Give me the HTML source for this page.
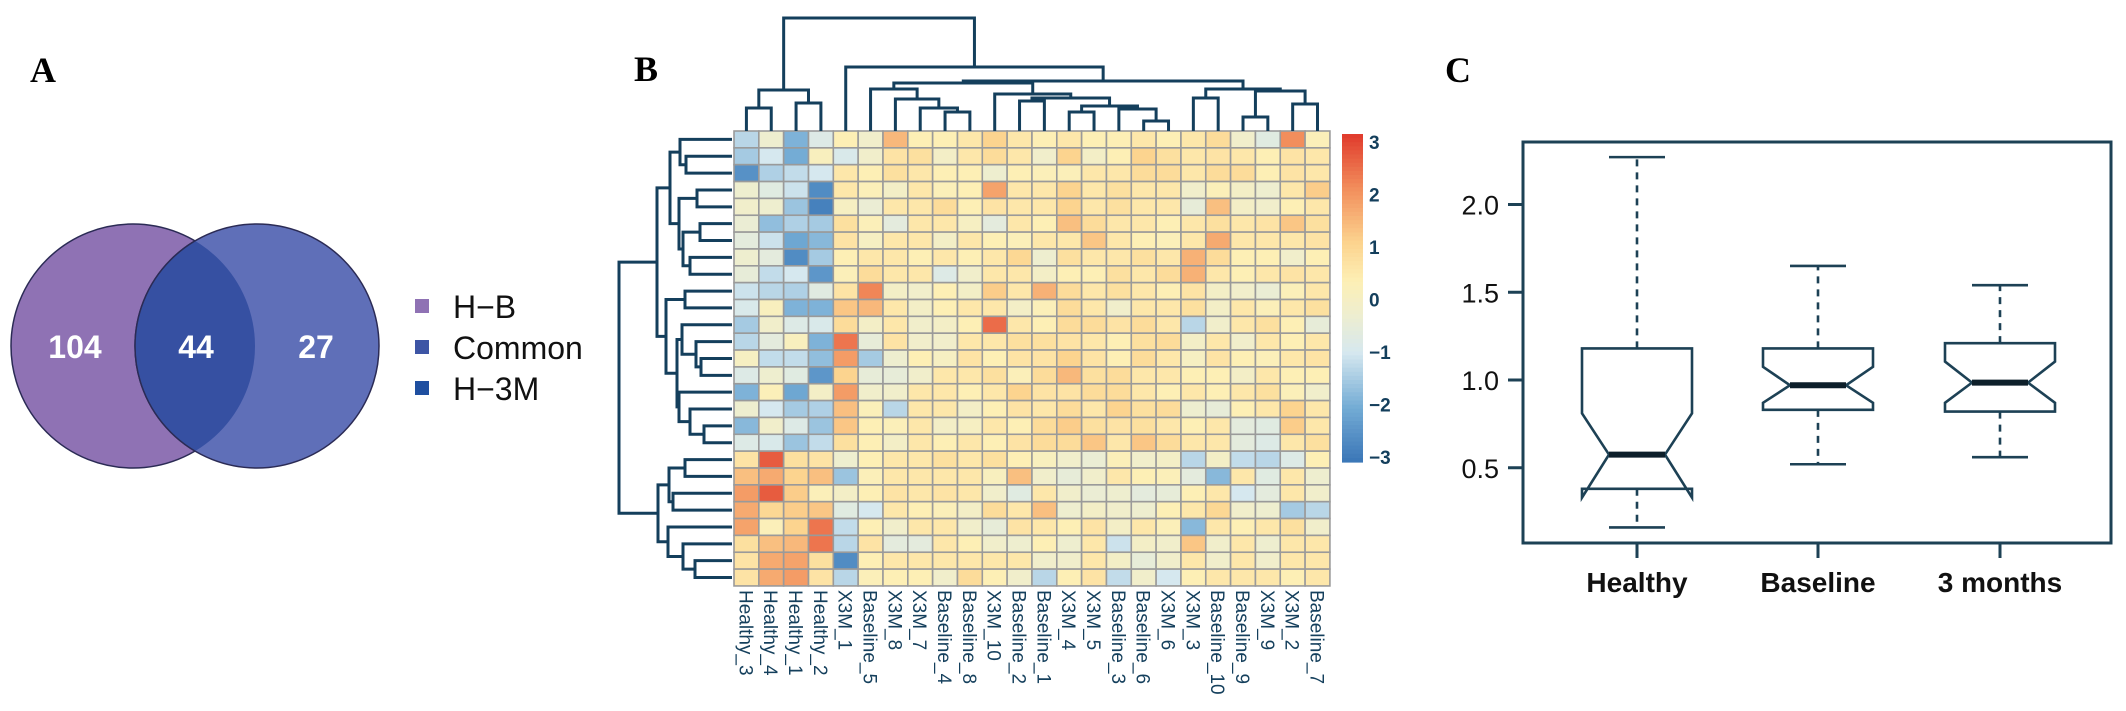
<!DOCTYPE html>
<html><head><meta charset="utf-8">
<style>
html,body{margin:0;padding:0;background:#fff;}
svg{display:block;}
</style></head>
<body>
<svg id="fig" width="2126" height="711" viewBox="0 0 2126 711" xmlns="http://www.w3.org/2000/svg" font-family="Liberation Sans, Arial, sans-serif">
  <g font-family="Liberation Serif, serif" font-weight="bold" font-size="36" fill="#000">
    <text x="30" y="82">A</text>
    <text x="634" y="81">B</text>
    <text x="1445" y="82">C</text>
  </g>
  <g id="venn"></g>
  <g id="heat"></g>
  <g id="box"></g>
</svg>
<script>
// ---------- Venn data ----------
const vennCounts = [104, 44, 27];
const vennLegend = ["H\u2212B", "Common", "H\u22123M"];

// ---------- Heatmap data ----------
const colLabels = ["Healthy_3","Healthy_4","Healthy_1","Healthy_2","X3M_1","Baseline_5","X3M_8","X3M_7","Baseline_4","Baseline_8","X3M_10","Baseline_2","Baseline_1","X3M_4","X3M_5","Baseline_3","Baseline_6","X3M_6","X3M_3","Baseline_10","Baseline_9","X3M_9","X3M_2","Baseline_7"];
const heatValues = [
 [-1.3,-0.3,-1.9,-0.8,0.3,-0.2,1.4,0.3,0.3,0.5,1.0,0.5, 0.3,0.5,0.3,0.3,0.5,0.3,0.5,0.8,-0.2,-0.7,2.0,0.2],
 [-1.5,-1.0,-2.0,0.1,-0.9,-0.2,0.6,0.7,-0.1,0.5,0.8,0.5, -0.2,1.0,-0.1,0.3,1.0,0.7,0.5,0.6,0.5,0.3,0.6,0.5],
 [-2.5,-1.4,-1.2,-1.0,0.5,0.3,0.7,0.5,0.3,0.3,-0.3,0.3, 0.2,0.2,0.5,0.5,0.8,0.8,0.5,0.8,0.8,0.3,0.6,0.5],
 [-0.3,-0.7,-1.1,-2.6,0.5,0.2,-0.1,0.5,0.2,0.3,1.7,0.5, 0.5,1.0,0.5,0.7,0.5,0.5,-0.2,0.2,-0.1,-0.3,0.5,1.1],
 [-0.2,-0.3,-1.6,-2.8,0.0,-0.4,0.5,0.5,0.8,0.3,0.6,0.5, 0.5,1.0,0.5,0.7,0.5,0.5,-0.5,1.3,-0.1,-0.2,0.3,0.5],
 [-0.4,-1.7,-1.4,-1.5,0.7,0.2,-0.6,0.5,0.5,0.0,-0.6,0.5, 0.3,1.3,0.8,0.5,0.5,0.3,0.5,0.7,0.5,0.6,1.2,0.7],
 [-0.6,-1.1,-2.1,-1.8,0.6,0.0,0.5,0.5,-0.1,0.5,0.3,0.2, 0.5,0.5,1.2,0.5,0.3,0.2,0.5,1.6,0.5,0.5,0.5,0.6],
 [-0.3,-0.6,-2.6,-1.5,0.3,0.5,0.5,0.3,0.5,0.3,0.5,0.9, -0.3,0.7,0.5,0.5,0.7,0.5,1.5,0.8,0.3,0.3,-0.2,0.3],
 [-0.5,-1.2,-1.0,-2.4,0.2,0.8,0.5,0.5,-0.8,-0.2,0.5,0.5, -0.1,0.3,0.3,0.7,0.5,0.8,1.5,0.5,0.3,0.5,0.6,0.5],
 [-1.1,-1.3,-1.4,-0.7,0.6,2.1,-0.1,-0.2,0.3,-0.1,1.1,0.5, 1.5,0.8,0.5,0.7,0.5,0.3,0.6,-0.1,-0.2,-0.4,0.2,0.5],
 [-0.9,0.1,-1.9,-1.9,1.2,1.4,0.5,-0.1,0.3,0.5,0.5,-0.1, 0.2,0.8,0.5,-0.2,0.5,0.5,0.7,-0.1,0.5,0.2,0.5,0.7],
 [-1.5,-0.2,-0.8,-0.9,0.8,-0.1,0.5,-0.2,-0.1,0.3,2.4,0.5, 0.3,0.8,0.8,0.6,0.8,0.5,-1.3,-0.2,0.5,0.7,0.3,-0.5],
 [-1.3,-0.6,0.1,-1.9,2.3,-0.5,0.6,-0.2,-0.2,0.5,0.5,0.7, 0.7,0.6,0.5,0.3,0.7,0.8,-0.1,0.5,-0.2,0.5,0.3,0.5],
 [0.0,-1.2,-1.2,-1.7,1.8,-1.5,-0.3,0.3,0.0,0.6,0.3,0.6, 0.6,1.0,0.6,0.3,0.8,0.5,0.0,0.6,0.3,0.2,0.5,0.6],
 [-0.8,-0.3,-0.7,-2.4,1.0,-0.5,-0.5,-0.2,0.5,0.5,0.7,0.2, 0.8,1.4,0.7,0.8,0.5,0.5,0.3,0.3,-0.1,0.5,0.3,0.3],
 [-1.9,0.2,-2.1,-0.1,1.8,-0.2,-0.2,0.5,0.5,0.3,0.5,1.0, 0.6,0.6,0.8,0.8,0.5,0.3,0.5,0.3,0.5,0.7,0.2,-0.2],
 [-0.3,-1.0,-1.5,-1.4,1.3,0.2,-1.3,0.5,0.5,-0.1,0.3,0.6, 0.5,0.8,0.5,1.0,0.7,0.8,-0.3,-0.5,0.3,0.5,1.0,0.5],
 [-1.8,-0.2,-0.8,-1.6,1.2,0.3,0.2,0.5,-0.1,0.0,0.5,0.3, 0.8,1.1,0.7,0.6,0.7,0.5,0.3,0.5,-0.6,-0.7,1.1,0.5],
 [-0.8,-0.9,-1.6,-1.2,0.7,0.3,-0.1,0.5,0.3,0.5,0.3,0.6, 0.8,0.8,1.2,0.5,1.2,0.8,0.5,0.5,-0.6,-0.8,0.5,0.7],
 [0.6,2.6,0.7,0.6,-0.3,0.3,0.5,0.5,0.7,0.5,0.7,0.3, 0.1,-0.2,-0.4,0.2,-0.2,-0.1,-1.3,-0.1,-1.2,-1.3,-0.8,0.3],
 [1.3,1.6,1.0,1.3,-1.6,0.2,0.5,0.5,0.5,0.5,0.1,1.3, -0.2,-0.5,-0.2,0.5,0.3,0.2,-0.6,-1.8,0.5,-0.7,0.5,-0.3],
 [1.8,2.6,1.1,0.2,-0.1,0.3,0.6,0.5,0.6,0.5,-0.2,-0.7, 0.5,-0.2,-0.4,-0.3,-0.6,-0.5,0.3,0.5,-1.0,-0.6,0.5,-0.2],
 [1.6,0.9,1.1,1.2,-0.7,-1.0,0.5,0.3,0.2,-0.1,0.8,0.5, 1.3,-0.3,-0.1,-0.2,-0.3,0.3,0.5,0.9,-0.2,-0.3,-1.5,-1.3],
 [1.7,0.2,1.0,2.3,-1.2,0.3,-0.2,0.5,0.5,-0.2,-0.5,0.6, 0.5,0.3,0.6,-0.1,0.5,0.2,-1.8,0.5,0.3,0.5,0.7,-0.2],
 [0.7,1.3,1.4,2.3,-1.3,0.6,-0.6,-0.6,0.5,0.3,-0.2,-0.3, 0.3,-0.3,0.5,-1.1,-0.1,-0.2,1.2,-0.2,0.5,-0.3,0.5,0.5],
 [0.6,1.6,1.7,0.7,-2.6,0.3,0.5,0.5,0.5,0.5,0.5,0.5, -0.2,-0.2,0.5,-0.1,-0.5,-0.2,0.5,-0.2,0.5,-0.2,0.5,0.5],
 [0.6,1.6,1.8,0.6,-1.3,0.2,0.3,0.3,-0.2,0.8,0.3,-0.2, -1.3,0.3,0.6,-1.2,-0.2,-1.0,0.3,0.5,0.5,0.5,0.3,0.5]
];
const colorbarTicks = [3,2,1,0,-1,-2,-3];

// ---------- Boxplot data ----------
const boxGroups = ["Healthy","Baseline","3 months"];
const boxWhiskerHi = [2.27, 1.65, 1.54];
const boxQ3 = [1.18, 1.18, 1.21];
const boxNotchHi = [0.81, 1.075, 1.105];
const boxMedian = [0.575, 0.97, 0.985];
const boxNotchLo = [0.33, 0.87, 0.87];
const boxQ1 = [0.38, 0.83, 0.82];
const boxWhiskerLo = [0.16, 0.52, 0.56];
const boxYTicks = [0.5, 1.0, 1.5, 2.0];

const NS = "http://www.w3.org/2000/svg";
function mk(tag, attrs, parent){
  const e = document.createElementNS(NS, tag);
  for (const k in attrs) e.setAttribute(k, attrs[k]);
  parent.appendChild(e);
  return e;
}

// ---------- Venn ----------
(function(){
  const g = document.getElementById('venn');
  const CY = 346, R = 122;
  const c1 = mk('circle',{cx:133,cy:CY,r:R,fill:'#8f72b4',stroke:'#2b2b55','stroke-width':1.5},g);
  
  
  const c2 = mk('circle',{cx:257,cy:CY,r:R,fill:'#5f6fb8',stroke:'#2b2b55','stroke-width':1.5},g);
  
  
  const cp = mk('clipPath',{id:'clipL'},g);
  mk('circle',{cx:133,cy:CY,r:R},cp);
  const ov = mk('circle',{cx:257,cy:CY,r:R,fill:'#3650a2','clip-path':'url(#clipL)',stroke:'#2b2b55','stroke-width':1.5},g);
  
  
  const xs = [75,196,316];
  vennCounts.forEach((v,i)=>{
    const t = mk('text',{x:xs[i],y:CY+12,'text-anchor':'middle','font-size':32,'font-weight':'bold',fill:'#fff'},g);
    t.textContent = v;
    
    
  });
  const sq = ['#8f72b4','#3d55a5','#1f4fa0'];
  const ly = [306,347,388];
  vennLegend.forEach((lab,i)=>{
    const r = mk('rect',{x:415,y:ly[i]-7,width:14,height:14,fill:sq[i]},g);
    
    
    const t = mk('text',{x:453,y:ly[i]+12,'font-size':32,fill:'#111'},g);
    t.textContent = lab;
    
    
  });
})();

// ---------- Heatmap ----------
(function(){
  const g = document.getElementById('heat');
  const X0=734, Y0=131, CW=24.83, RH=16.85;
  const stops = [[-3,[58,118,183]],[-2,[116,172,213]],[-1,[214,232,239]],[-0.3,[238,238,207]],[0.3,[253,239,181]],[1,[252,212,143]],[2,[242,142,92]],[3,[224,58,44]]];
  function col(v){
    v=Math.max(-3,Math.min(3,v));
    for(let i=0;i<stops.length-1;i++){
      const a=stops[i],b=stops[i+1];
      if(v<=b[0]){const t=(v-a[0])/(b[0]-a[0]);
        const c=a[1].map((x,k)=>Math.round(x+(b[1][k]-x)*t));
        return 'rgb('+c.join(',')+')';}
    }
    return 'rgb(224,58,44)';
  }
  const xC = j => X0 + j*CW;
  const yR = i => Y0 + i*RH;
  heatValues.forEach((row,i)=>{
    row.forEach((v,j)=>{
      const r = mk('rect',{x:xC(j),y:yR(i),width:CW,height:RH,fill:col(v),stroke:'#9a9a9a','stroke-width':1.6},g);
      
      
    });
  });
  colLabels.forEach((lab,j)=>{
    const cx = xC(j)+CW/2;
    const t = mk('text',{x:0,y:0,transform:'translate('+(cx-7)+',590) rotate(90)','font-size':19,fill:'#143f5c'},g);
    t.textContent = lab;
    
    
  });
  const cb = mk('g',{},g);
  
  
  const cbTop=134, cbBot=462;
  for(let k=0;k<80;k++){
    const v = 3 - 6*k/80;
    mk('rect',{x:1342,y:cbTop+(cbBot-cbTop)*k/80,width:21,height:(cbBot-cbTop)/80+0.6,fill:col(v-3/80)},cb);
  }
  colorbarTicks.forEach(v=>{
    const y = 142 + (3-v)/6*(457-142);
    const t = mk('text',{x:1369,y:y+7,'font-size':19,'font-weight':'bold',fill:'#143f5c'},cb);
    t.textContent = v<0 ? '\u2212'+(-v) : String(v);
    
    
  });

  const dstroke = '#143f5c';
  function drawDendro(merges, leafPos, leafLevel, vertical, name){
    const dg = mk('g',{fill:'none',stroke:dstroke,'stroke-width':3},g);
    
    
    const nodes = [];
    const get = a => typeof a==='number' ? {p:leafPos(a-1),h:leafLevel} : nodes[+a.slice(1)];
    merges.forEach(m=>{
      const A=get(m[0]),B=get(m[1]),h=m[2];
      let d;
      if(vertical) d='M'+A.p+','+A.h+'V'+h+'H'+B.p+'V'+B.h;
      else d='M'+A.h+','+A.p+'H'+h+'V'+B.p+'H'+B.h;
      mk('path',{d:d},dg);
      nodes.push({p:(A.p+B.p)/2,h:h});
    });
  }
  const topMerges=[[1,2,108],[3,4,103],['m0','m1',90],[9,10,112],[8,'m3',108],[7,'m4',99],[6,'m5',89],[14,15,112],[17,18,121],[16,'m8',109],['m7','m9',106],[12,13,101],['m11','m10',98],[11,'m12',94],['m6','m13',83],[19,20,98],[21,22,117],[23,24,104],['m16','m17',91],['m15','m18',89],['m14','m19',81],[5,'m20',67],['m2','m21',18]];
  drawDendro(topMerges, j=>xC(j)+CW/2, 131, true, 'column-dendrogram');
  const leftMerges=[[2,3,686],[1,'m0',680],[4,5,697],[6,7,700],[8,9,690],['m3','m4',683],['m2','m5',679],['m1','m6',670],[10,11,685],[14,15,701],[13,'m9',696],[12,'m10',682],[18,19,704],[17,'m12',690],[16,'m13',679],['m11','m14',677],['m8','m15',666],['m7','m16',657],[20,21,685],[22,23,673],['m18','m19',669],[26,27,695],[25,'m21',683],[24,'m22',668],['m20','m23',658],['m17','m24',619]];
  drawDendro(leftMerges, i=>yR(i)+RH/2, 732, false, 'row-dendrogram');
})();

// ---------- Boxplot ----------
(function(){
  const g = document.getElementById('box');
  const stroke = '#1d4155';
  const yS = v => 380 - (v-1)*175.5;
  const centers = [1637, 1818, 2000];
  const BW = 110, IND = 27;
  const FT = 142, FB = 543;
  const fr = mk('rect',{x:1523,y:FT,width:588,height:FB-FT,fill:'none',stroke:stroke,'stroke-width':3},g);
  
  
  boxYTicks.forEach(v=>{
    mk('line',{x1:1508,x2:1523,y1:yS(v),y2:yS(v),stroke:stroke,'stroke-width':3},g);
    const t = mk('text',{x:1499,y:yS(v)+10,'text-anchor':'end','font-size':27,fill:'#111'},g);
    t.textContent = v.toFixed(1);
    
    
  });
  boxGroups.forEach((name,i)=>{
    const c = centers[i], L=c-BW/2, R=c+BW/2;
    const bg = mk('g',{fill:'none',stroke:stroke,'stroke-width':2.6},g);
    
    
    mk('line',{x1:c,x2:c,y1:yS(boxQ3[i]),y2:yS(boxWhiskerHi[i]),'stroke-dasharray':'7,6'},bg);
    mk('line',{x1:c,x2:c,y1:yS(boxQ1[i]),y2:yS(boxWhiskerLo[i]),'stroke-dasharray':'7,6'},bg);
    mk('line',{x1:c-28,x2:c+28,y1:yS(boxWhiskerHi[i]),y2:yS(boxWhiskerHi[i])},bg);
    mk('line',{x1:c-28,x2:c+28,y1:yS(boxWhiskerLo[i]),y2:yS(boxWhiskerLo[i])},bg);
    const pts = [[L,boxQ3[i]],[R,boxQ3[i]],[R,boxNotchHi[i]],[R-IND,boxMedian[i]],[R,boxNotchLo[i]],[R,boxQ1[i]],[L,boxQ1[i]],[L,boxNotchLo[i]],[L+IND,boxMedian[i]],[L,boxNotchHi[i]]];
    mk('polygon',{points:pts.map(p=>p[0]+','+yS(p[1])).join(' '),fill:'#fff'},bg);
    mk('line',{x1:L+IND,x2:R-IND,y1:yS(boxMedian[i]),y2:yS(boxMedian[i]),'stroke-width':6,stroke:'#0d1f2a'},bg);
    mk('line',{x1:c,x2:c,y1:FB,y2:FB+15,stroke:stroke,'stroke-width':3},g);
    const t = mk('text',{x:c,y:592,'text-anchor':'middle','font-size':28,'font-weight':'bold',fill:'#111'},g);
    t.textContent = name;
    
    
  });
})();
</script>
</body></html>
